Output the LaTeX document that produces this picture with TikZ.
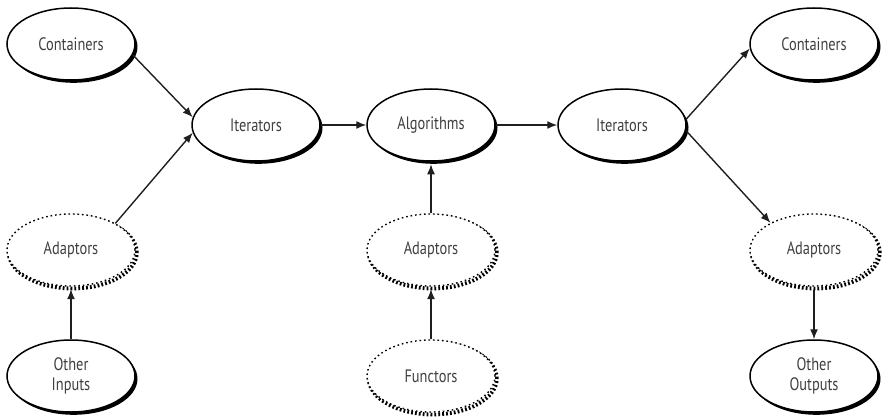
\documentclass[tikz,border=0pt]{standalone}
\usepackage{fontspec}
\setmainfont{PT Sans}[FakeStretch=0.8]
\usetikzlibrary{arrows.meta,shadows,shapes.geometric}

\definecolor{labelgray}{gray}{0.25}
\definecolor{inkgray}{gray}{0.12}

\tikzset{
  blob/.style={ellipse, minimum width=128pt, minimum height=72pt, inner sep=0pt,
    fill=white, align=center, text=labelgray,
    font=\fontsize{18}{20}\selectfont},
  solidblob/.style={blob, draw=black, line width=1.5pt,
    drop shadow={shadow xshift=2.5pt, shadow yshift=-2.8pt, fill=black, opacity=1}},
  dashblob/.style={blob, draw=black, line width=1.4pt,
    dash pattern=on 1.6pt off 2.9pt,
    general shadow={shadow xshift=1.8pt, shadow yshift=-2.5pt, draw=black,
      line width=3.8pt, dash pattern=on 1.8pt off 2.1pt, fill=none}},
  arr/.style={draw=inkgray, line width=1.4pt, -{Latex[length=10pt,width=8pt]}},
  upinto/.style={arr, shorten >=2.5pt},
  downfrom/.style={arr, shorten <=3pt}
}

\begin{document}
\begin{tikzpicture}[x=1pt, y=-1pt]
  \useasboundingbox (0,0) rectangle (885,417);

  % input side
  \node[solidblob] (contL) at (71,44)  {Containers};
  \node[dashblob]  (adL)   at (71,250) {Adaptors};
  \node[solidblob] (oin)   at (71,376) {Other\\Inputs};

  % main chain
  \node[solidblob] (itL)   at (256,125) {Iterators};
  \node[solidblob] (alg)   at (431,125) {Algorithms};
  \node[solidblob] (itR)   at (622,125) {Iterators};

  % algorithm helpers
  \node[dashblob]  (adM)   at (431,250) {Adaptors};
  \node[dashblob]  (fun)   at (431,376) {Functors};

  % output side
  \node[solidblob] (contR) at (814,44)  {Containers};
  \node[dashblob]  (adR)   at (814,250) {Adaptors};
  \node[solidblob] (oout)  at (814,376) {Other\\Outputs};

  % connectors
  \draw[arr] (contL.-10) -- (itL.173);
  \draw[arr] (adL.31) -- (itL.187);
  \draw[upinto] (oin.north) -- (adL.south);

  \draw[arr] (itL.east) -- (alg.west);
  \draw[arr] (alg.east) -- (itR.west);
  \draw[upinto] (adM.north) -- (alg.south);
  \draw[upinto] (fun.north) -- (adM.south);

  \draw[arr] (itR.5) -- (contR.184);
  \draw[arr] (itR.-5) -- (adR.148);
  \draw[downfrom] (adR.south) -- (oout.north);
\end{tikzpicture}
\end{document}
